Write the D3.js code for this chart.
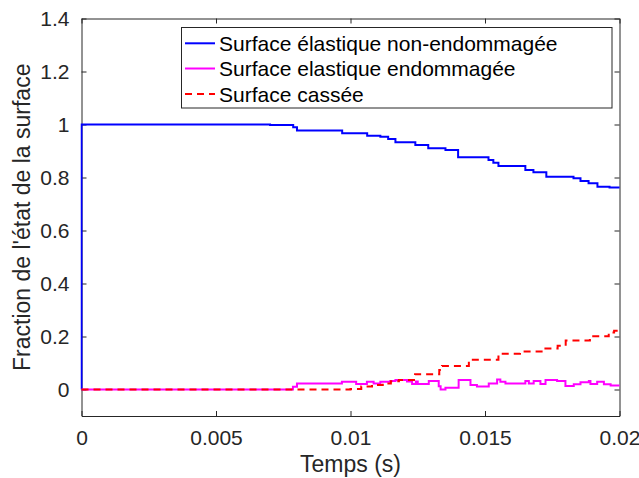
<!DOCTYPE html>
<html>
<head>
<meta charset="utf-8">
<script src="https://cdn.jsdelivr.net/npm/d3@7"></script>
<style>
  html, body { margin: 0; padding: 0; background: #fff; }
  svg { display: block; font-family: "Liberation Sans", Arial, Helvetica, sans-serif; }
</style>
</head>
<body>
<svg id="chart" width="639" height="478"></svg>
<script>
// ---- data ----
const seriesNames = ["Surface élastique non-endommagée", "Surface elastique endommagée", "Surface cassée"];
const xTicks = [0, 0.005, 0.01, 0.015, 0.02];
const xTickLabels = ["0", "0.005", "0.01", "0.015", "0.02"];
const yTicks = [0, 0.2, 0.4, 0.6, 0.8, 1, 1.2, 1.4];
const yTickLabels = ["0", "0.2", "0.4", "0.6", "0.8", "1", "1.2", "1.4"];

const blueT = [0, 0, 0.00701, 0.00787, 0.00801, 0.00969, 0.01062, 0.01111, 0.01140, 0.01167, 0.01241, 0.01289, 0.01353, 0.01400, 0.01513, 0.01531, 0.01550, 0.01650, 0.01680, 0.01728, 0.01829, 0.01855, 0.01885, 0.01918, 0.01963, 0.02];
const blueV = [0, 1, 0.998, 0.990, 0.977, 0.967, 0.958, 0.954, 0.945, 0.933, 0.923, 0.910, 0.904, 0.876, 0.866, 0.856, 0.843, 0.828, 0.820, 0.803, 0.797, 0.787, 0.778, 0.765, 0.762, 0.762];

const magT = [0, 0.00786, 0.00801, 0.00968, 0.01021, 0.01061, 0.01086, 0.01111, 0.01148, 0.01167, 0.01210, 0.01229, 0.01243, 0.01250, 0.01291, 0.01328, 0.01335, 0.01353, 0.01402, 0.01446, 0.01470, 0.01514, 0.01545, 0.01557, 0.01576, 0.01650, 0.01663, 0.01681, 0.01706, 0.01725, 0.01768, 0.01799, 0.01830, 0.01855, 0.01886, 0.01892, 0.01917, 0.01942, 0.01967, 0.02];
const magV = [0, 0.010, 0.023, 0.029, 0.021, 0.029, 0.023, 0.029, 0.032, 0.036, 0.030, 0.021, 0.030, 0.021, 0.032, 0.012, 0.000, 0.007, 0.036, 0.017, 0.011, 0.023, 0.038, 0.029, 0.023, 0.032, 0.023, 0.032, 0.021, 0.036, 0.032, 0.013, 0.020, 0.027, 0.032, 0.021, 0.029, 0.020, 0.015, 0.015];

const redT = [0, 0.0100, 0.0104, 0.0108, 0.0112, 0.0115, 0.0118, 0.0124, 0.0133, 0.0134, 0.0144, 0.0155, 0.0163, 0.0172, 0.0177, 0.0180, 0.0189, 0.0196, 0.0198, 0.02];
const redV = [0, 0.002, 0.011, 0.017, 0.023, 0.031, 0.036, 0.058, 0.074, 0.089, 0.112, 0.135, 0.143, 0.155, 0.165, 0.185, 0.201, 0.215, 0.222, 0.222];

// ---- layout ----
const mLeft = 81.5, mRight = 619.5, mTop = 18.5, mBottom = 416;
const axisColor = "#262626";
const svg = d3.select("#chart");

const x = d3.scaleLinear().domain([0, 0.02]).range([mLeft, mRight]);
const y = d3.scaleLinear().domain([-0.1, 1.4]).range([mBottom, mTop]);

svg.append("defs").append("clipPath").attr("id", "clip")
  .append("rect").attr("x", mLeft - 1).attr("y", mTop).attr("width", mRight - mLeft + 2).attr("height", mBottom - mTop);

// axes (MATLAB style, ticks inward, box on)
const tickLen = 5;
const fmtX = (d, i) => xTickLabels[i];
const fmtY = (d, i) => yTickLabels[i];

const gx = svg.append("g").attr("transform", `translate(0,${mBottom})`)
  .call(d3.axisBottom(x).tickValues(xTicks).tickFormat(fmtX).tickSizeInner(-tickLen).tickSizeOuter(0).tickPadding(14));
const gxTop = svg.append("g").attr("transform", `translate(0,${mTop})`)
  .call(d3.axisTop(x).tickValues(xTicks).tickFormat("").tickSizeInner(-tickLen).tickSizeOuter(0));
const gy = svg.append("g").attr("transform", `translate(${mLeft},0)`)
  .call(d3.axisLeft(y).tickValues(yTicks).tickFormat(fmtY).tickSizeInner(-tickLen).tickSizeOuter(0).tickPadding(12));
const gyR = svg.append("g").attr("transform", `translate(${mRight},0)`)
  .call(d3.axisRight(y).tickValues(yTicks).tickFormat("").tickSizeInner(-tickLen).tickSizeOuter(0));

[gx, gxTop, gy, gyR].forEach(g => {
  g.select(".domain").attr("stroke", axisColor).attr("stroke-width", 1);
  g.selectAll(".tick line").attr("stroke", axisColor).attr("stroke-width", 1);
  g.selectAll(".tick text").attr("fill", axisColor).attr("font-size", 21)
    .attr("font-family", '"Liberation Sans", Arial, sans-serif');
});

// series
const line = d3.line().x(d => x(d[0])).y(d => y(d[1])).curve(d3.curveStepAfter);
const plot = svg.append("g").attr("clip-path", "url(#clip)");

const series = [
  { name: seriesNames[0], data: d3.zip(blueT, blueV), color: "#0000ff", dash: null },
  { name: seriesNames[1], data: d3.zip(magT, magV), color: "#ff00ff", dash: null },
  { name: seriesNames[2], data: d3.zip(redT, redV), color: "#ff0000", dash: "7,5" }
];
[series[0], series[1], series[2]].forEach(s => {
  plot.append("path").datum(s.data)
    .attr("fill", "none").attr("stroke", s.color).attr("stroke-width", 2)
    .attr("stroke-dasharray", s.dash).attr("d", line);
});

// axis labels
svg.append("text").attr("x", (mLeft + mRight) / 2).attr("y", 472).attr("text-anchor", "middle")
  .attr("font-size", 23).attr("fill", axisColor).text("Temps (s)");
svg.append("text").attr("transform", `translate(30,${(mTop + mBottom) / 2}) rotate(-90)`)
  .attr("text-anchor", "middle").attr("font-size", 23).attr("fill", axisColor)
  .text("Fraction de l'état de la surface");

// legend
const lg = svg.append("g");
lg.append("rect").attr("x", 181.5).attr("y", 27.5).attr("width", 430.5).attr("height", 80.5)
  .attr("fill", "#fff").attr("stroke", axisColor).attr("stroke-width", 1);
const rowY = [43.3, 68.5, 94];
series.forEach((s, i) => {
  lg.append("line").attr("x1", 185).attr("x2", 215).attr("y1", rowY[i]).attr("y2", rowY[i])
    .attr("stroke", s.color).attr("stroke-width", 2).attr("stroke-dasharray", s.dash);
  lg.append("text").attr("x", 219).attr("y", rowY[i] + 7.5).attr("font-size", 21)
    .attr("fill", "#000").text(s.name);
});
</script>
</body>
</html>
